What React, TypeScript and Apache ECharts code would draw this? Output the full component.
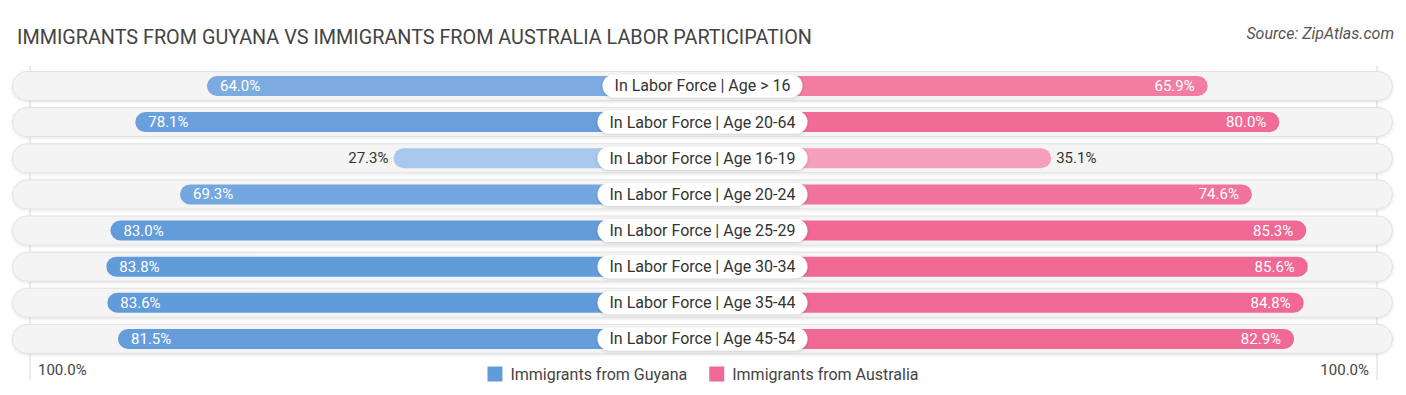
import React, { useEffect, useRef } from "react";
import * as echarts from "echarts";

const categories = [
  "In Labor Force | Age > 16",
  "In Labor Force | Age 20-64",
  "In Labor Force | Age 16-19",
  "In Labor Force | Age 20-24",
  "In Labor Force | Age 25-29",
  "In Labor Force | Age 30-34",
  "In Labor Force | Age 35-44",
  "In Labor Force | Age 45-54",
];
const guyana = [64.0, 78.1, 27.3, 69.3, 83.0, 83.8, 83.6, 81.5];
const australia = [65.9, 80.0, 35.1, 74.6, 85.3, 85.6, 84.8, 82.9];
const seriesNames = ["Immigrants from Guyana", "Immigrants from Australia"];
const axisEndLabels = ["100.0%", "100.0%"];

const OFFSET = 33.5; // gap between center and zero of each side, in % units
const AXIS_MAX = 100 + OFFSET;

function mix(a: number[], b: number[], t: number) {
  const c = a.map((x, i) => Math.round(x + (b[i] - x) * Math.max(0, Math.min(1, t))));
  return `rgb(${c[0]},${c[1]},${c[2]})`;
}
const blueLight = [168, 200, 238];
const blueDark = [98, 155, 218];
const pinkLight = [247, 168, 192];
const pinkDark = [240, 104, 148];

function shade(v: number, light: number[], dark: number[]) {
  return mix(light, dark, (v - 27) / 57);
}

const FONT = "Roboto, 'Noto Sans', sans-serif";

export default function App() {
  const ref = useRef<HTMLDivElement>(null);
  useEffect(() => {
    document.body.style.margin = "0";
    if (!ref.current) return;
    const chart = echarts.init(ref.current, null, { renderer: "svg" });
    const top = 67.9;
    const height = 289.1;
    const makeBars = (vals: number[], side: "left" | "right", light: number[], dark: number[], name: string, idx: number) => ({
      type: "bar",
      name,
      xAxisIndex: idx,
      yAxisIndex: idx,
      barWidth: 20,
      z: 3,
      itemStyle: { color: mix(light, dark, 1), borderRadius: 10 },
      data: vals.map((v) => {
        const inside = v >= 40;
        return {
          value: v + OFFSET,
          itemStyle: { color: shade(v, light, dark), borderRadius: 10 },
          label: {
            show: true,
            position: inside ? (side === "left" ? "insideLeft" : "insideRight") : side === "left" ? "left" : "right",
            distance: inside ? 13 : 5,
            color: inside ? "#ffffff" : "#333333",
            fontSize: 15,
            fontFamily: FONT,
            formatter: () => v.toFixed(1) + "%",
          },
        };
      }),
    });
    chart.setOption({
      animation: false,
      textStyle: { fontFamily: FONT },
      title: {
        text: "IMMIGRANTS FROM GUYANA VS IMMIGRANTS FROM AUSTRALIA LABOR PARTICIPATION",
        left: 12,
        top: 22,
        textStyle: { fontSize: 19.8, fontWeight: "normal", color: "#444444", fontFamily: FONT },
      },
      legend: {
        data: seriesNames,
        left: "center",
        top: 361,
        icon: "rect",
        itemWidth: 15,
        itemHeight: 15,
        itemGap: 22,
        textStyle: { fontSize: 16, color: "#444444", fontFamily: FONT, padding: [0, 0, 0, 3] },
      },
      grid: [
        { left: 12, width: 1381, top, height },
        { left: 24, width: 678.5, top, height },
        { left: 702.5, width: 678.5, top, height },
      ],
      xAxis: [
        { type: "value", gridIndex: 0, min: 0, max: 1, show: false },
        { type: "value", gridIndex: 1, min: 0, max: AXIS_MAX, inverse: true, show: false },
        { type: "value", gridIndex: 2, min: 0, max: AXIS_MAX, show: false },
      ],
      yAxis: [
        { type: "category", gridIndex: 0, data: categories, inverse: true, show: false },
        { type: "category", gridIndex: 1, data: categories, inverse: true, show: false },
        {
          type: "category",
          gridIndex: 2,
          data: categories,
          inverse: true,
          z: 10,
          axisLine: { show: false },
          axisTick: { show: false },
          axisLabel: {
            show: true,
            align: "center",
            margin: 0,
            fontSize: 16,
            color: "#333333",
            fontFamily: FONT,
            backgroundColor: "#ffffff",
            borderRadius: 12,
            padding: [4, 12, 3, 12],
            shadowColor: "rgba(0,0,0,0.18)",
            shadowBlur: 3,
            shadowOffsetY: 1,
          },
        },
      ],
      graphic: [
        { type: "line", shape: { x1: 30, y1: 66, x2: 30, y2: 380 }, style: { stroke: "#d8d8d8", lineWidth: 1 }, z: 1 },
        { type: "line", shape: { x1: 1377, y1: 66, x2: 1377, y2: 380 }, style: { stroke: "#d8d8d8", lineWidth: 1 }, z: 1 },
        {
          type: "text",
          right: 12,
          top: 25,
          style: { text: "Source: ZipAtlas.com", fontSize: 16, fontStyle: "italic", fill: "#555555", fontFamily: FONT },
        },
        {
          type: "text",
          left: 38,
          top: 362,
          style: { text: axisEndLabels[0], fontSize: 15, fill: "#444444", fontFamily: FONT },
        },
        {
          type: "text",
          right: 37,
          top: 362,
          style: { text: axisEndLabels[1], fontSize: 15, fill: "#444444", fontFamily: FONT },
        },
      ],
      series: [
        {
          type: "bar",
          xAxisIndex: 0,
          yAxisIndex: 0,
          barWidth: 30,
          silent: true,
          z: 1,
          itemStyle: {
            color: "#f4f4f4",
            borderRadius: 15,
            borderColor: "#e2e2e2",
            borderWidth: 1,
            shadowColor: "rgba(0,0,0,0.12)",
            shadowBlur: 3,
            shadowOffsetY: 1,
          },
          data: categories.map(() => 1),
        },
        makeBars(guyana, "left", blueLight, blueDark, seriesNames[0], 1),
        makeBars(australia, "right", pinkLight, pinkDark, seriesNames[1], 2),
      ],
    });
    return () => chart.dispose();
  }, []);
  return <div ref={ref} style={{ width: 1406, height: 395 }} />;
}
